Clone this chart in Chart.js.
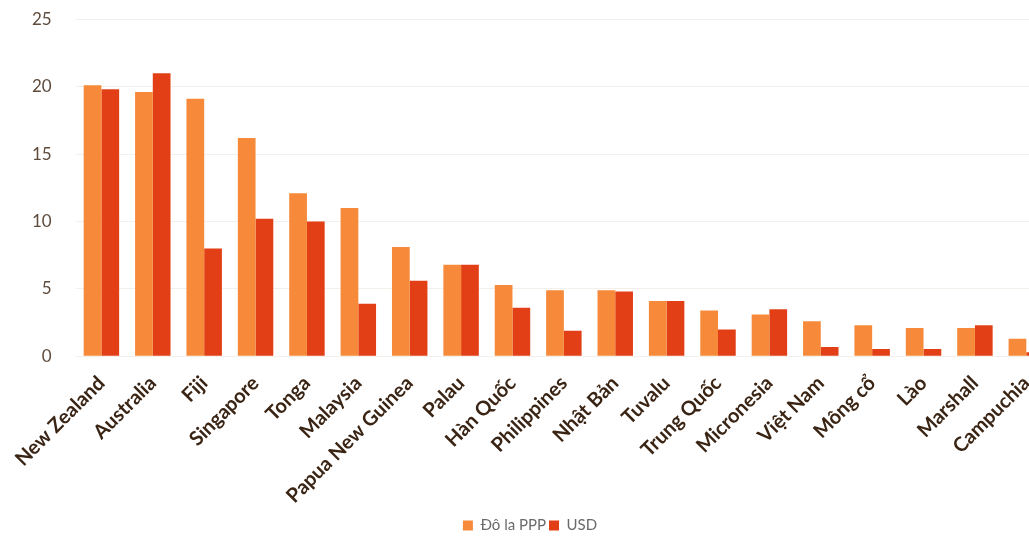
<!DOCTYPE html>
<html>
<head>
<meta charset="utf-8">
<script src="https://cdn.jsdelivr.net/npm/chart.js@4/dist/chart.umd.min.js"></script>
<style>
  html, body { margin: 0; padding: 0; background: #fff; overflow: hidden; }
  #wrap { position: relative; top: -15px; width: 1052px; height: 558px; }
</style>
</head>
<body>
<div id="wrap"><canvas id="c1"></canvas></div>
<script>
// data
var countries = ["New Zealand","Australia","Fiji","Singapore","Tonga","Malaysia","Papua New Guinea","Palau","Hàn Quốc","Philippines","Nhật Bản","Tuvalu","Trung Quốc","Micronesia","Việt Nam","Mông cổ","Lào","Marshall","Campuchia"];
var ppp = [20.1, 19.6, 19.1, 16.2, 12.1, 11.0, 8.1, 6.8, 5.3, 4.9, 4.9, 4.1, 3.4, 3.1, 2.6, 2.3, 2.1, 2.1, 1.3];
var usd = [19.8, 21.0, 8.0, 10.2, 10.0, 3.9, 5.6, 6.8, 3.6, 1.9, 4.8, 4.1, 2.0, 3.5, 0.7, 0.55, 0.55, 2.3, 0.3];
var yTicks = [0, 5, 10, 15, 20, 25];

var ctx1 = document.getElementById("c1").getContext('2d');

var myChart1 = new Chart(ctx1, {
	type: 'bar',
	data: {
		labels: countries,
		datasets: [
			{ label: "Đô la PPP", data: ppp, backgroundColor: "#F68A3A", borderWidth: 0 },
			{ label: "USD", data: usd, backgroundColor: "#E23F17", borderWidth: 0 }
		]
	},
	options: {
		responsive: true,
		maintainAspectRatio: false,
		animation: false,
		layout: { padding: { left: 8, top: 0, right: 0, bottom: 0 } },
		datasets: { bar: { barPercentage: 1, categoryPercentage: 0.69 } },
		scales: {
			y: {
				min: 0, max: 25,
				afterBuildTicks: function(ax){ ax.ticks = yTicks.map(function(v){ return {value: v}; }); },
				grid: { color: "#f3efeb", drawTicks: false },
				border: { display: false },
				ticks: { padding: 24, color: "#5e4b3c", font: { family: "Lato", size: 17 } }
			},
			x: {
				grid: { display: false },
				border: { display: false },
				ticks: {
					minRotation: 45, maxRotation: 45, autoSkip: false, padding: 7,
					color: "#3a2414", font: { family: "Lato", size: 20, weight: "bold" }
				}
			}
		},
		plugins: {
			tooltip: { enabled: false },
			legend: {
				position: 'bottom',
				labels: {
					boxWidth: 10, boxHeight: 10, padding: 3,
					color: "#6a6a6a", font: { family: "Lato", size: 15 }
				}
			}
		}
	}
});
</script>
</body>
</html>
